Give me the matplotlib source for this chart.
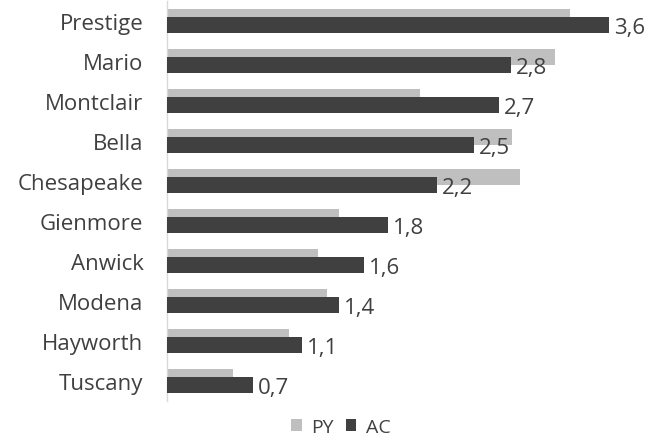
import matplotlib
matplotlib.use("Agg")
import matplotlib.pyplot as plt
from matplotlib.patches import Patch

plt.rcParams['font.family'] = ['Open Sans', 'DejaVu Sans']

categories = ["Prestige", "Mario", "Montclair", "Bella", "Chesapeake",
              "Gienmore", "Anwick", "Modena", "Hayworth", "Tuscany"]
ac_values = [3.6, 2.8, 2.7, 2.5, 2.2, 1.8, 1.6, 1.4, 1.1, 0.7]
py_values = [3.28, 3.16, 2.06, 2.81, 2.87, 1.40, 1.23, 1.30, 0.99, 0.54]

PY_COLOR = "#bfbfbf"
AC_COLOR = "#404040"
TEXT_COLOR = "#404040"

W, H = 650, 439
fig = plt.figure(figsize=(W / 100, H / 100), dpi=100)

xmax = 3.9
px_per_unit = 122.9
ax_left, ax_top, ax_bottom = 167, 2, 402
ax = fig.add_axes([ax_left / W, 1 - ax_bottom / H,
                   xmax * px_per_unit / W, (ax_bottom - ax_top) / H])

pos = list(range(len(categories)))
bar_h = 0.4
shift = 0.1
ax.barh([p - shift for p in pos], py_values, height=bar_h, color=PY_COLOR, zorder=2)
ax.barh([p + shift for p in pos], ac_values, height=bar_h, color=AC_COLOR, zorder=3)

for p, v in zip(pos, ac_values):
    ax.text(v + 0.04, p + shift + 0.21, f"{v:.1f}".replace(".", ","),
            va="baseline", ha="left", fontsize=16, color=TEXT_COLOR, zorder=4)

ax.set_ylim(len(categories) - 0.5, -0.5)
ax.set_xlim(0, xmax)
ax.set_yticks(pos)
ax.set_yticklabels(categories, fontsize=16, color=TEXT_COLOR)
ax.tick_params(axis="y", length=0, pad=17)
ax.set_xticks([])
for side in ["top", "right", "bottom"]:
    ax.spines[side].set_visible(False)
ax.spines["left"].set_color("#d9d9d9")
ax.spines["left"].set_linewidth(1)

handles = [Patch(facecolor=PY_COLOR, label="PY"), Patch(facecolor=AC_COLOR, label="AC")]
fig.legend(handles=handles, loc="center", bbox_to_anchor=(341 / W, 1 - 428 / H),
           ncol=2, frameon=False, fontsize=14, handlelength=0.55, handleheight=0.55,
           handletextpad=0.5, columnspacing=0.6, labelcolor=TEXT_COLOR)

fig.savefig("out.png", dpi=100)
